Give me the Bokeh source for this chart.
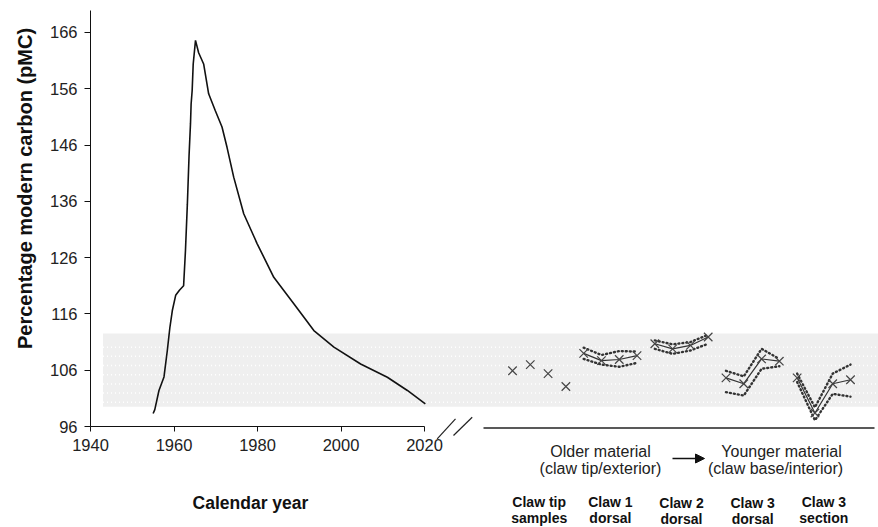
import numpy as np
from bokeh.plotting import figure
from bokeh.models import (LinearAxis, FixedTicker, Range1d, BoxAnnotation, Label,
                          Arrow, NormalHead)
from bokeh.embed import file_html
from bokeh.resources import INLINE

# ---------------- data ----------------
years = [1955.0, 1955.4, 1956.4, 1957.6, 1958.4, 1959.0, 1959.6, 1960.4, 1961.3, 1962.3,
         1962.75, 1963.2, 1963.6, 1963.95, 1964.1, 1964.35, 1964.6, 1965.15, 1965.9,
         1967.1, 1968.3, 1969.9, 1971.5, 1972.7, 1974.3, 1976.7, 1979.9, 1983.9, 1988.7,
         1993.5, 1998.3, 2004.7, 2011.1, 2015.9, 2020.2]
pmc = [98.3, 99.0, 102.4, 104.8, 109.5, 113.5, 116.6, 119.3, 120.2, 121.0,
       127.3, 135.5, 144.0, 149.8, 153.3, 155.7, 160.4, 164.6, 162.4,
       160.4, 155.1, 152.1, 149.2, 145.6, 140.3, 133.8, 128.5, 122.5, 117.8,
       113.05, 110.1, 107.1, 104.75, 102.4, 100.0]

year_ticks = [1940, 1960, 1980, 2000, 2020]
pmc_ticks = [96, 106, 116, 126, 136, 146, 156, 166]
year_axis_bounds = (1940, 2020)
pmc_axis_bounds = (96, 169.9)

band_start = 1943.0
band_low = 99.5
band_high = 112.5

# claw samples (sample order index, pMC)
tip_x = [0, 1, 2, 3]
tip_y = [105.9, 107.0, 105.4, 103.1]

claw1_x = [4, 5, 6, 7]
claw1_y = [109.0, 107.7, 107.9, 108.6]
claw1_hi = [110.0, 108.7, 109.4, 109.3]
claw1_lo = [108.0, 107.0, 106.6, 107.3]

claw2_x = [8, 9, 10, 11]
claw2_y = [110.7, 109.8, 110.4, 111.9]
claw2_hi = [111.3, 110.6, 111.0, 112.3]
claw2_lo = [109.8, 108.9, 109.5, 110.7]

claw3d_x = [12, 13, 14, 15]
claw3d_y = [104.65, 103.6, 108.0, 107.6]
claw3d_hi = [105.9, 104.9, 109.8, 108.0]
claw3d_lo = [102.1, 101.5, 106.25, 106.7]

claw3s_x = [16, 17, 18, 19]
claw3s_y = [104.65, 98.4, 103.6, 104.3]
claw3s_hi = [105.4, 99.4, 105.4, 107.0]
claw3s_lo = [103.9, 97.1, 101.8, 101.3]

group_labels = [("Claw tip", "samples"), ("Claw 1", "dorsal"), ("Claw 2", "dorsal"),
                ("Claw 3", "dorsal"), ("Claw 3", "section")]

# ---------------- layout ----------------
W, H = 878, 527
OFF = 0                                   # bokeh page has no body margin
PX_YEAR = 4.175                           # px per year
PX_UNIT = 5.629                           # px per pMC unit
AX_X_PAGE, AX_Y_PAGE = 90.0, 426.0        # page position of (1940, 96)
XS = 1940 - (AX_X_PAGE - OFF) / PX_YEAR
XE = XS + W / PX_YEAR
YE = 96 + (AX_Y_PAGE - OFF) / PX_UNIT
YS = YE - H / PX_UNIT
# claw index axis: index 0 at page x 512, step 17.79 px
C0_PAGE, C_STEP = 512.0, 17.79
CS = (OFF - C0_PAGE) / C_STEP
CE = CS + W / C_STEP


def dx(page_x):
    return XS + (page_x - OFF) / PX_YEAR


def dy(page_y):
    return YE - (page_y - OFF) / PX_UNIT


FONT = "Liberation Sans"

p = figure(width=W, height=H, output_backend="svg", toolbar_location=None,
           x_range=Range1d(XS, XE), y_range=Range1d(YS, YE),
           x_axis_location=None, y_axis_location=None,
           min_border_left=0, min_border_right=0,
           min_border_top=0, min_border_bottom=0)
p.extra_x_ranges = {"claw": Range1d(CS, CE)}
p.outline_line_color = None
p.xgrid.visible = False
p.ygrid.visible = False
p.background_fill_color = "white"
p.border_fill_color = "white"

# y axis
yax = LinearAxis(ticker=FixedTicker(ticks=pmc_ticks), bounds=pmc_axis_bounds,
                 fixed_location=year_axis_bounds[0])
yax.axis_line_color = "#111111"
yax.major_tick_line_color = "#111111"
yax.major_tick_out = 6
yax.major_tick_in = 0
yax.minor_tick_line_color = None
yax.major_label_text_font = FONT
yax.major_label_text_font_size = "16.5px"
yax.major_label_text_color = "#222222"
yax.major_label_standoff = 7
p.add_layout(yax, "left")

# x axis (calendar years only)
xax = LinearAxis(ticker=FixedTicker(ticks=year_ticks), bounds=year_axis_bounds,
                 fixed_location=pmc_axis_bounds[0])
xax.axis_line_color = "#111111"
xax.major_tick_line_color = "#111111"
xax.major_tick_out = 5
xax.major_tick_in = 0
xax.minor_tick_line_color = None
xax.major_label_text_font = FONT
xax.major_label_text_font_size = "16.5px"
xax.major_label_text_color = "#222222"
xax.major_label_standoff = 7
p.add_layout(xax, "below")

# grey band
band = BoxAnnotation(left=band_start, bottom=band_low, top=band_high,
                     fill_color="#efefef", fill_alpha=1.0, line_color=None,
                     level="underlay")
p.add_layout(band)
rows = np.linspace(band_low + 0.8, band_high - 2.4, 7)
p.multi_line(xs=[[band_start, XE]] * len(rows), ys=[[r, r] for r in rows],
             line_color="white", line_width=1.5, line_dash="1 3")

# bomb curve
p.line(years, pmc, line_color="#111111", line_width=1.6)

# claw data
dark = "#333333"
for xs, ys in [(claw1_x, claw1_y), (claw2_x, claw2_y), (claw3d_x, claw3d_y), (claw3s_x, claw3s_y)]:
    p.line(xs, ys, x_range_name="claw", line_color=dark, line_width=1.2)
for xs, hi, lo in [(claw1_x, claw1_hi, claw1_lo), (claw2_x, claw2_hi, claw2_lo),
                   (claw3d_x, claw3d_hi, claw3d_lo), (claw3s_x, claw3s_hi, claw3s_lo)]:
    p.line(xs, hi, x_range_name="claw", line_color=dark, line_width=2.4,
           line_dash="1 3", line_cap="round")
    p.line(xs, lo, x_range_name="claw", line_color=dark, line_width=2.4,
           line_dash="1 3", line_cap="round")
for xs, ys in [(tip_x, tip_y), (claw1_x, claw1_y), (claw2_x, claw2_y), (claw3d_x, claw3d_y), (claw3s_x, claw3s_y)]:
    p.scatter(xs, ys, x_range_name="claw", marker="x", size=12,
              line_color="#444444", line_width=1.2)

# axis break marks and right baseline
for (xa, ya, xb, yb) in [(436.7, 438.3, 455.0, 418.3), (453.0, 435.0, 471.7, 416.7)]:
    p.add_layout(Arrow(end=None, x_start=dx(xa), y_start=dy(ya), x_end=dx(xb), y_end=dy(yb),
                       line_color="#222222", line_width=1.2))
p.add_layout(Arrow(end=None, x_start=dx(483), y_start=dy(427.5), x_end=dx(874), y_end=dy(427.5),
                   line_color="#222222", line_width=1.5))

# arrow between material labels
p.add_layout(Arrow(end=NormalHead(size=9, fill_color="#111111", line_color="#111111"),
                   x_start=dx(672), y_start=dy(458), x_end=dx(704), y_end=dy(458),
                   line_color="#111111", line_width=1.6))


def add_label(text, px, py, size, bold=False, angle=0.0):
    p.add_layout(Label(x=dx(px), y=dy(py), text=text, text_font=FONT,
                       text_font_size=size, text_font_style="bold" if bold else "normal",
                       text_color="#111111" if bold else "#222222",
                       text_align="center", text_baseline="middle", angle=angle))


add_label("Percentage modern carbon (pMC)", 24, 188, "20px", bold=True, angle=np.pi / 2)
add_label("Calendar year", 250, 502, "17.5px", bold=True)
add_label("Older material", 600, 451, "16px")
add_label("(claw tip/exterior)", 600, 468, "16px")
add_label("Younger material", 781, 451, "16px")
add_label("(claw base/interior)", 775, 468, "16px")

for g, (l1, l2) in enumerate(group_labels):
    xs = [tip_x, claw1_x, claw2_x, claw3d_x, claw3s_x][g]
    centre = C0_PAGE + C_STEP * float(np.mean(xs))
    shift = 1 if g in (2, 3) else 0
    add_label(l1, centre, 501 + shift, "14px", bold=True)
    add_label(l2, centre, 517 + shift, "14px", bold=True)

open("out.html", "w").write(file_html(p, INLINE))
